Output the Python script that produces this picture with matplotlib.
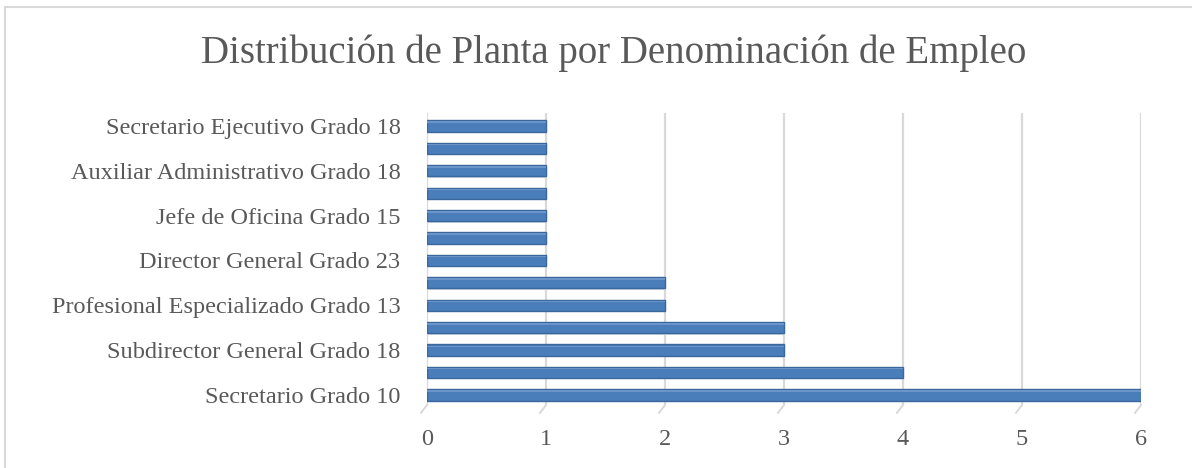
import matplotlib
matplotlib.use("Agg")
import matplotlib.pyplot as plt
from matplotlib.patches import Rectangle

# bottom to top, as drawn by the chart
categories = [
    "Secretario Grado 10", "", "Subdirector General Grado 18", "",
    "Profesional Especializado Grado 13", "", "Director General Grado 23", "",
    "Jefe de Oficina Grado 15", "", "Auxiliar Administrativo Grado 18", "",
    "Secretario Ejecutivo Grado 18",
]
values = [6, 4, 3, 3, 2, 2, 1, 1, 1, 1, 1, 1, 1]
x_ticks = [0, 1, 2, 3, 4, 5, 6]

title = "Distribución de Planta por Denominación de Empleo"

TEXT = "#595959"
GRID = "#d9d9d9"
BAR = "#4a7ebb"
BAR_EDGE = "#3a679c"
FONT = "Liberation Serif"


def main() -> None:
    fig = plt.figure(figsize=(11.92, 4.68), dpi=100)
    fig.patch.set_facecolor("white")

    # chart frame, cut off at right and bottom like the reference
    fig.patches.append(Rectangle((5 / 1192, -0.1), 1.2, 1.1 - 7 / 468,
                                 transform=fig.transFigure, fill=False,
                                 edgecolor=GRID, linewidth=1.5))

    ax = fig.add_axes([427 / 1192, 1 - 405 / 468, 714 / 1192, 292 / 468])
    y = list(range(len(values)))

    # soft shadow under the bars
    ax.barh([v - 0.06 for v in y], values, height=0.5, left=0.01,
            color="#c9d3e0", edgecolor="none", zorder=2)
    ax.barh(y, values, height=0.5, color=BAR, edgecolor=BAR_EDGE,
            linewidth=1.0, zorder=3)
    # light upper rim for the bevel look
    ax.barh([v + 0.17 for v in y], values, height=0.07,
            color="#6b95c8", edgecolor="none", zorder=4)

    ax.set_xlim(x_ticks[0], x_ticks[-1])
    ax.set_ylim(-0.45, len(values) - 1 + 0.58)

    for v in x_ticks:
        ax.axvline(v, color=GRID, linewidth=1.6, zorder=1)
        # small floor edge of the 3D look
        ax.plot([v, v - 0.05], [-0.45, -0.8], color=GRID, linewidth=1.4,
                clip_on=False, zorder=1)

    for s in ax.spines.values():
        s.set_visible(False)

    ax.set_xticks(x_ticks)
    ax.set_xticklabels([str(t) for t in x_ticks], fontfamily=FONT,
                       fontsize=17.5, color=TEXT)
    ax.set_yticks(y)
    ax.set_yticklabels(categories, fontfamily=FONT, fontsize=17.5, color=TEXT)
    ax.tick_params(axis="x", length=0, pad=17)
    ax.tick_params(axis="y", length=0, pad=19)

    fig.text(614 / 1192, 1 - 63 / 468, title, ha="center", va="baseline",
             fontfamily=FONT, fontsize=28, color=TEXT)

    fig.savefig("out.png", dpi=100, facecolor="white")


if __name__ == "__main__":
    main()
